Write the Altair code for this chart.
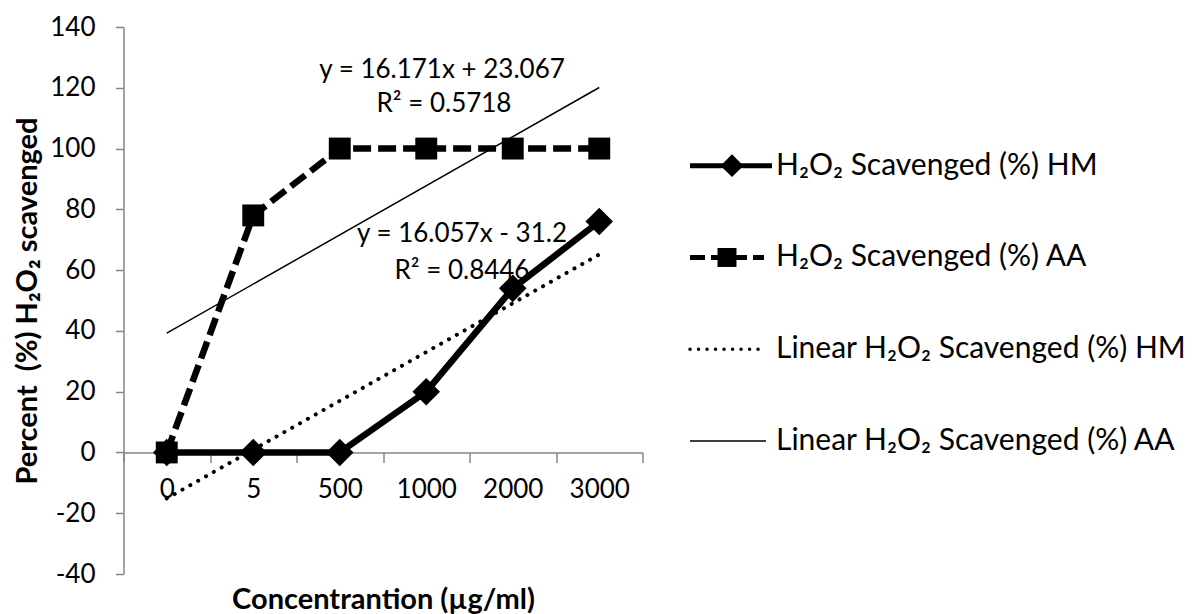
import json
import altair as alt
import pandas as pd

# ---------------- data ----------------
categories = ["0", "5", "500", "1000", "2000", "3000"]
hm_values = [0, 0, 0, 20, 54, 76]
aa_values = [0, 78, 100, 100, 100, 100]
y_ticks = [-40, -20, 0, 20, 40, 60, 80, 100, 120, 140]
legend_labels = [
    "H₂O₂ Scavenged (%) HM",
    "H₂O₂ Scavenged (%) AA",
    "Linear H₂O₂ Scavenged (%) HM",
    "Linear H₂O₂ Scavenged (%) AA",
]

rows = []
for i, c in enumerate(categories):
    rows.append({"cat": c, "idx": i + 1, "series": "HM", "value": hm_values[i]})
    rows.append({"cat": c, "idx": i + 1, "series": "AA", "value": aa_values[i]})
df = pd.DataFrame(rows)
legend_df = pd.DataFrame({"label": legend_labels, "row": list(range(len(legend_labels)))})

# ---------------- layout / style ----------------
W, H = 519, 547
FONT = "Lato"
AX = "#868686"
YMIN, YMAX = -40, 140
zero_from_bottom = H * (0 - YMIN) / (YMAX - YMIN)
cat_expr = json.dumps(categories)

xscale = alt.Scale(type="band", domain=categories, paddingInner=0, paddingOuter=0)
yscale = alt.Scale(domain=[YMIN, YMAX], nice=False, zero=False)

x_axis = alt.Axis(
    title="Concentrantion (µg/ml)", orient="bottom", offset=-zero_from_bottom,
    tickBand="extent", tickSize=10, tickColor=AX, tickWidth=1.5,
    domainColor=AX, domainWidth=1.5, grid=False,
    labelFont=FONT, labelFontSize=26, labelColor="black", labelPadding=27,
    labelBaseline="middle", labelAngle=0,
    titleFont=FONT, titleFontSize=29, titleFontWeight="bold", titleColor="black",
    titleX=W / 2, titleY=146.6, titleBaseline="middle", titleAlign="center",
)
y_axis = alt.Axis(
    title="Percent\u00a0 (%) H₂O₂ scavenged", values=y_ticks,
    labelExpr="toString(datum.value)",
    tickSize=8, tickColor=AX, tickWidth=1.5, domainColor=AX, domainWidth=1.5,
    grid=False, labelFont=FONT, labelFontSize=26, labelColor="black", labelPadding=20.5,
    titleFont=FONT, titleFontSize=29, titleFontWeight="bold", titleColor="black",
    titleX=-96, titleY=H / 2, titleBaseline="middle", titleAlign="center",
)

X = alt.X("cat:N", scale=xscale, sort=categories, axis=x_axis, bandPosition=0.5)
Y = alt.Y("value:Q", scale=yscale, axis=y_axis)

base = alt.Chart(df)

def series(name):
    return base.transform_filter(alt.datum.series == name)

def trend(name):
    return (
        series(name)
        .transform_regression("idx", "value", extent=[1, len(categories)])
        .transform_calculate(cat=f"{cat_expr}[round(datum.idx) - 1]")
    )

def params(name):
    return (
        series(name)
        .transform_regression("idx", "value", params=True)
        .transform_calculate(
            eq="'y = ' + format(datum.coef[1], '.3~f') + 'x ' + (datum.coef[0] < 0 ? '- ' : '+ ') + format(abs(datum.coef[0]), '.3~f')",
            r2="'R² = ' + format(datum.rSquared, '.4f')",
        )
    )

text_style = dict(font=FONT, fontSize=26, color="black", align="center", baseline="middle")

ann_aa_eq = params("AA").mark_text(**text_style).encode(x=alt.value(318.5), y=alt.value(43), text="eq:N")
ann_aa_r2 = params("AA").mark_text(**text_style).encode(x=alt.value(320.5), y=alt.value(77), text="r2:N")
ann_hm_eq = params("HM").mark_text(**text_style).encode(x=alt.value(338.5), y=alt.value(207), text="eq:N")
ann_hm_r2 = params("HM").mark_text(**text_style).encode(x=alt.value(338.5), y=alt.value(244), text="r2:N")

trend_hm = trend("HM").mark_line(color="black", strokeWidth=4, strokeDash=[0.1, 8.9], strokeCap="round").encode(x=X, y=Y)
trend_aa = trend("AA").mark_line(color="black", strokeWidth=1.5).encode(x=X, y=Y)

hm_line = series("HM").mark_line(color="black", strokeWidth=6.5, strokeJoin="round").encode(x=X, y=Y)
hm_pts = series("HM").mark_point(shape="diamond", filled=True, size=760, color="black", opacity=1).encode(x=X, y=Y)
aa_line = series("AA").mark_line(color="black", strokeWidth=6.5, strokeDash=[18, 7]).encode(x=X, y=Y)
aa_pts = series("AA").mark_point(shape="square", filled=True, size=480, color="black", opacity=1).encode(x=X, y=Y)

main = alt.layer(ann_aa_eq, ann_aa_r2, ann_hm_eq, ann_hm_r2, trend_hm, trend_aa,
                 hm_line, aa_line, hm_pts, aa_pts)

# ---------------- legend (drawn to the right of the plot) ----------------
LY = alt.Y("row:Q", scale=alt.Scale(domain=[0, 3], range=[138.7, 414]), axis=None)
lbase = alt.Chart(legend_df)

def lrow(i):
    return lbase.transform_filter(alt.datum.row == i)

LX0, LX1 = 566.5, 648.5
leg_l0 = lrow(0).mark_rule(color="black", strokeWidth=5).encode(x=alt.value(LX0), x2=alt.value(LX1), y=LY)
leg_l1 = lrow(1).mark_rule(color="black", strokeWidth=5, strokeDash=[15, 6]).encode(x=alt.value(LX0), x2=alt.value(LX1 - 8), y=LY)
leg_l2 = lrow(2).mark_rule(color="black", strokeWidth=3.5, strokeDash=[0.1, 8.4], strokeCap="round").encode(x=alt.value(LX0), x2=alt.value(LX1 - 6), y=LY)
leg_l3 = lrow(3).mark_rule(color="black", strokeWidth=1.5).encode(x=alt.value(LX0), x2=alt.value(LX1 - 6), y=LY)
leg_p0 = lrow(0).mark_point(shape="diamond", filled=True, size=520, color="black", opacity=1).encode(x=alt.value(608.5), y=LY)
leg_p1 = lrow(1).mark_point(shape="square", filled=True, size=360, color="black", opacity=1).encode(x=alt.value(603.5), y=LY)
leg_t = lbase.mark_text(font=FONT, fontSize=30, color="black", align="left", baseline="middle").encode(
    x=alt.value(652.5), y=LY, text="label:N")

legend = alt.layer(leg_l0, leg_l1, leg_l2, leg_l3, leg_p0, leg_p1, leg_t)

chart = (
    alt.layer(main, legend)
    .resolve_scale(y="independent")
    .properties(
        width=W, height=H,
        autosize=alt.AutoSizeParams(type="none"),
        padding={"left": 115.5, "top": 19, "right": 542, "bottom": 40},
        background="white",
    )
    .configure_view(stroke=None)
)

chart.save("out.html", embed_options={"renderer": "svg", "actions": False})
